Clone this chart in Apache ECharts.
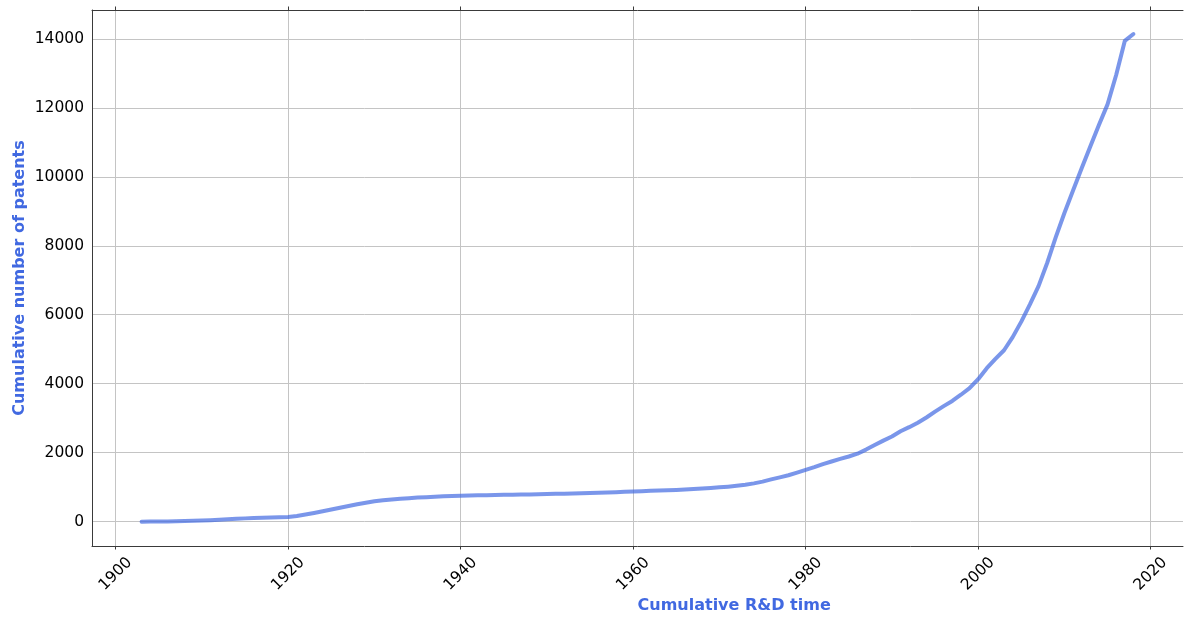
<!DOCTYPE html>
<html>
<head>
<meta charset="utf-8">
<script src="https://cdn.jsdelivr.net/npm/echarts@6/dist/echarts.min.js"></script>
<style>
html,body{margin:0;padding:0;background:#fff;}
#chart{width:1184px;height:617px;}
</style>
</head>
<body>
<div id="chart"></div>
<script>
var years = [];
for (var y = 1903; y <= 2018; y++) years.push(y);
var patents = [
  0, 2, 5, 8, 12, 17, 23, 30, 42, 55,
  70, 85, 95, 105, 113, 120, 127, 137, 165, 205,
  250, 300, 350, 405, 455, 505, 550, 590, 620, 645,
  665, 682, 697, 710, 722, 735, 745, 752, 758, 763,
  768, 773, 778, 782, 786, 790, 794, 800, 806, 812,
  818, 825, 832, 840, 848, 856, 864, 873, 882, 893,
  902, 910, 920, 930, 945, 960, 975, 995, 1015, 1040,
  1070, 1110, 1160, 1225, 1285, 1345, 1420, 1500, 1580, 1670,
  1745, 1820, 1890, 1970, 2090, 2220, 2350, 2470, 2620, 2740,
  2870, 3020, 3190, 3350, 3500, 3680, 3870, 4130, 4450, 4720,
  4970, 5350, 5800, 6300, 6830, 7500, 8250, 8950, 9600, 10250,
  10880, 11500, 12100, 12950, 13940, 14140
];
var xTicks = [1900, 1920, 1940, 1960, 1980, 2000, 2020];
var yTicks = [0, 2000, 4000, 6000, 8000, 10000, 12000, 14000];
var xLabel = 'Cumulative R&D time';
var yLabel = 'Cumulative number of patents';

var data = years.map(function (yr, i) { return [yr, patents[i]]; });
var spine = '#3a3a3a';
var gridColor = '#c4c4c4';
var plain = function (v) { return String(v); };
var chart = echarts.init(document.getElementById('chart'));
chart.setOption({
  animation: false,
  grid: { left: 92, right: 1, top: 10, bottom: 71, outerBoundsMode: 'none', containLabel: false },
  xAxis: [{
    type: 'value', min: 1897.25, max: 2023.75,
    name: xLabel, nameLocation: 'middle', nameGap: 52, nameMoveOverlap: false,
    nameTextStyle: { color: '#4169E1', fontWeight: 'bold', fontSize: 16, fontFamily: 'DejaVu Sans', align: 'left' },
    axisLine: { show: true, onZero: false, lineStyle: { color: spine, width: 1 } },
    axisTick: { show: true, length: 3.5, customValues: xTicks, lineStyle: { color: spine } },
    axisLabel: { customValues: xTicks, formatter: plain, rotate: 45, align: 'center', verticalAlign: 'middle', margin: 28,
      color: '#000', fontSize: 15.5, fontFamily: 'DejaVu Sans' },
    splitLine: { show: true, lineStyle: { color: gridColor, width: 1 } }
  }, {
    type: 'value', min: 1897.25, max: 2023.75, position: 'top',
    axisLine: { show: true, onZero: false, lineStyle: { color: spine, width: 1 } },
    axisTick: { show: true, length: 3.5, customValues: xTicks, lineStyle: { color: spine } },
    axisLabel: { show: false },
    splitLine: { show: false }
  }],
  yAxis: {
    type: 'value', min: -706, max: 14836,
    name: yLabel, nameLocation: 'middle', nameGap: 64, nameMoveOverlap: false,
    nameTextStyle: { color: '#4169E1', fontWeight: 'bold', fontSize: 16, fontFamily: 'DejaVu Sans' },
    axisLine: { show: true, onZero: false, lineStyle: { color: spine, width: 1 } },
    axisTick: { show: false, customValues: yTicks },
    axisLabel: { customValues: yTicks, formatter: plain, margin: 8, color: '#000', fontSize: 15.5, fontFamily: 'DejaVu Sans' },
    splitLine: { show: true, lineStyle: { color: gridColor, width: 1 } }
  },
  series: [{
    type: 'line', data: data, showSymbol: false, xAxisIndex: 0,
    lineStyle: { color: 'rgba(65,105,225,0.7)', width: 4, cap: 'round', join: 'round' }
  }]
});
</script>
</body>
</html>
